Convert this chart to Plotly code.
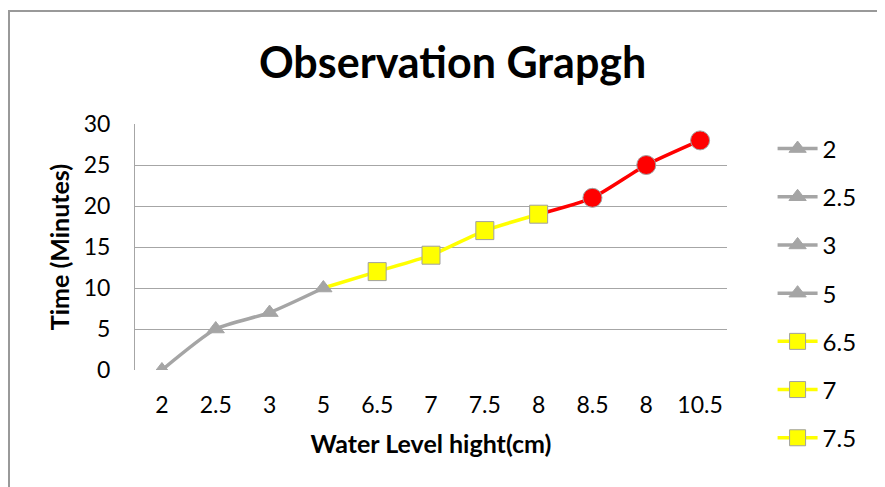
import plotly.graph_objects as go

# ---- data ----
categories = ["2", "2.5", "3", "5", "6.5", "7", "7.5", "8", "8.5", "8", "10.5"]
times = [0, 5, 7, 10, 12, 14, 17, 19, 21, 25, 28]
legend_labels = ["2", "2.5", "3", "5", "6.5", "7", "7.5"]

GRAY = "#A5A5A5"
YELLOW = "#FFFF00"
RED = "#FF0000"
FONT = "Lato"

W, H = 877, 479
L, R, T, B = 127, 158, 116, 117
PW, PH = W - L - R, H - T - B

idx = list(range(len(categories)))

# per-point style group: 0 gray triangle, 1 yellow square, 2 red circle
group_of = [0, 0, 0, 0, 1, 1, 1, 1, 2, 2, 2]
styles = {
    0: dict(color=GRAY, symbol="triangle-up", size=15, line=dict(color=GRAY, width=1)),
    1: dict(color=YELLOW, symbol="square", size=18, line=dict(color="#A0A0A0", width=1)),
    2: dict(color=RED, symbol="circle", size=19, line=dict(color="#A0A0A0", width=1)),
}
line_colors = {0: GRAY, 1: YELLOW, 2: RED}

fig = go.Figure()

# line segments: each segment is coloured by its end point
segments = {}
for i in range(1, len(idx)):
    g = group_of[i]
    segments.setdefault(g, set()).update({i - 1, i})
for g, pts in segments.items():
    pts = sorted(pts)
    fig.add_trace(go.Scatter(
        x=[idx[p] for p in pts], y=[times[p] for p in pts],
        mode="lines", line=dict(color=line_colors[g], width=3.5, shape="spline", smoothing=0.6),
        showlegend=False, hoverinfo="skip"))

# markers
for g in (0, 1, 2):
    pts = [i for i in idx if group_of[i] == g]
    fig.add_trace(go.Scatter(
        x=[idx[p] for p in pts], y=[times[p] for p in pts],
        mode="markers", marker=styles[g], showlegend=False))

# legend entries (Excel "vary colours by point" legend, truncated)
for k, lab in enumerate(legend_labels):
    g = group_of[k]
    fig.add_trace(go.Scatter(
        x=[None], y=[None], mode="lines+markers", name=lab,
        line=dict(color=line_colors[g], width=3.5), marker=styles[g],
        legendgroup=f"g{k}", showlegend=True))

fig.update_layout(
    width=W, height=H,
    margin=dict(l=L, r=R, t=T, b=B),
    paper_bgcolor="white", plot_bgcolor="white",
    font=dict(family=FONT, size=23, color="black"),
    title=dict(text="<b>Observation Grapgh</b>", x=0.507, xanchor="center",
               y=0.885, yanchor="middle", font=dict(family=FONT, size=43, color="black")),
    showlegend=True,
    legend=dict(x=1.077, xanchor="left", y=0.99, yanchor="top",
                font=dict(family=FONT, size=24), tracegroupgap=14,
                itemwidth=40, maxheight=470, bgcolor="rgba(0,0,0,0)"),
    xaxis=dict(
        range=[-0.5, 10.5], tickmode="array", tickvals=idx, ticktext=categories,
        showgrid=False, zeroline=False, showline=False, ticks="",
        ticklabelstandoff=19, tickfont=dict(size=23),
        title=dict(text="<b>Water Level hight(cm)</b>", font=dict(size=25), standoff=18),
    ),
    yaxis=dict(
        range=[0, 30], dtick=5, showgrid=True, gridcolor="#A6A6A6", gridwidth=1,
        zeroline=False, showline=True, linecolor="#A6A6A6", linewidth=1, ticks="",
        ticklabelstandoff=19, tickfont=dict(size=23),
        title=dict(text="<b>Time (Minutes)</b>", font=dict(size=25), standoff=6),
    ),
    shapes=[dict(type="rect", xref="paper", yref="paper",
                 x0=(1 - L) / PW, x1=(W + 20 - L) / PW,
                 y0=(H - B - H - 20) / PH, y1=(H - B - 3) / PH,
                 line=dict(color="#999999", width=2), layer="below")],
)

fig.write_html("out.html")
